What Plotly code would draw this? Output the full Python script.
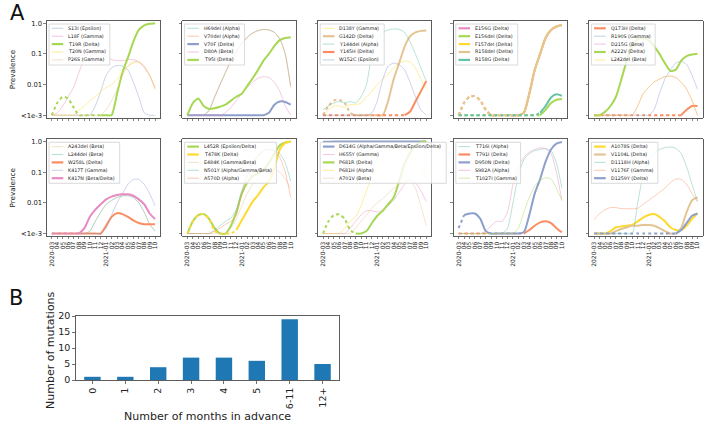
import plotly.graph_objects as go

MONTHS = ["2020-03", "04", "05", "06", "07", "08", "09", "10", "11", "12",
          "2021-01", "02", "03", "04", "05", "06", "07", "08", "09", "10"]
MONTH_IDX = list(range(len(MONTHS)))
Y_TICK_VALS = [0.001, 0.01, 0.1, 1.0]
Y_TICK_TEXT = ["<1e-3", "0.01", "0.1", "1.0"]
F = 0.001  # values shown at the "<1e-3" floor

# ---- panel 1
S13I = [F, F, F, F, F, F, F, F, .002, .006, .02, .035, .042, .04, .03, .012, .004, .0012, F, F]
L18F = [F, .0012, .002, .004, .008, .025, .07, .12, .13, .1, .08, .065, .06, .06, .065, .065, .055, .035, .02, .008]
T19R = [F, .0025, .004, .0035, .0018, F, F, F, F, F, F, F, .005, .025, .075, .25, .6, .85, .95, 1.0]
T20N = [F, F, F, F, F, .0015, .002, .003, .004, .006, .008, .01, .015, .025, .04, .05, .055, .04, .02, .007]
P26S = [F, F, F, F, F, F, F, F, F, F, .0015, .003, .007, .02, .04, .055, .055, .04, .02, .007]
# ---- panel 2
H69del = [F, F, F, F, .0015, .004, .01, .025, .06, .12, .22, .35, .48, .58, .62, .6, .5, .3, .1, .009]
V70del = [F, F, F, F, .0014, .0038, .01, .024, .058, .12, .21, .34, .47, .57, .63, .6, .5, .31, .1, .008]
V70F = [F, F, F, F, F, F, F, F, F, F, F, F, F, F, F, .0012, .0022, .0028, .0027, .0022]
D80A = [F, F, F, F, F, F, F, .0012, .0018, .003, .005, .008, .012, .016, .018, .017, .012, .006, .002, F]
T95I = [F, .0025, .0035, .002, .0016, .0017, .0019, .0022, .003, .004, .005, .009, .016, .03, .06, .1, .18, .28, .33, .35]
# ---- panel 3
D138Y = [F, .0015, .002, .002, .0018, .0022, .0022, .0025, .004, .006, .01, .015, .022, .035, .05, .058, .055, .035, .015, .007]
G142D = [F, .002, .003, .0032, .0025, .0012, F, F, F, F, F, F, .003, .015, .05, .17, .37, .5, .56, .58]
Y144del = [.0015, .002, .0025, .0028, .0025, .0028, .0025, .004, .01, .1, .3, .5, .6, .65, .63, .5, .25, .1, .035, .013]
Y145H = [F, F, F, F, F, F, F, F, F, F, F, F, F, F, F, F, .0013, .0028, .006, .013]
W152C = [F, F, F, F, F, F, F, F, F, .0012, .003, .015, .04, .05, .045, .03, .012, .004, .0015, F]
# ---- panel 4
E156G = [F, .0025, .004, .0042, .003, .0015, F, F, F, F, F, F, .0012, .005, .03, .1, .33, .6, .78, .87]
E156del = [F, F, F, F, F, F, F, F, F, F, F, F, F, F, F, F, .0015, .0025, .0032, .0034]
F157del = [F, .0025, .004, .0042, .003, .0015, F, F, F, F, F, F, .0012, .005, .03, .1, .33, .6, .78, .87]
R158del = [F, .0025, .004, .0042, .003, .0015, F, F, F, F, F, F, .0012, .005, .03, .1, .33, .6, .78, .87]
R158G = [F, F, F, F, F, F, F, F, F, F, F, F, F, F, F, .0012, .002, .0038, .0048, .0043]
# ---- panel 5
Q173H = [F, F, F, F, F, F, F, F, F, F, F, F, F, F, F, F, F, .0015, .002, .002]
R190S = [F, F, F, F, F, F, F, F, F, F, F, .0015, .005, .015, .03, .05, .057, .045, .02, .007]
D215G = [F, F, F, F, F, F, F, F, .002, .005, .008, .012, .015, .018, .019, .017, .012, .007, .003, F]
A222V = [F, F, .0013, .002, .004, .015, .06, .18, .3, .33, .28, .18, .1, .05, .028, .03, .06, .085, .095, .1]
L242del = [F, F, F, F, F, F, F, F, .002, .005, .008, .012, .015, .018, .019, .017, .012, .007, .003, F]
# ---- panel 6
A243del = [F, F, F, F, F, F, F, .0012, .0025, .005, .009, .012, .015, .017, .017, .015, .01, .005, .002, .0012]
L244del = [F, F, F, F, F, F, F, .0012, .0025, .005, .009, .012, .015, .017, .017, .015, .01, .005, .002, .0012]
W258L = [F, F, F, F, F, F, F, F, F, F, .0018, .0035, .0046, .0043, .0035, .0027, .0022, .002, .002, .002]
K417T = [F, F, F, F, F, F, F, F, F, F, .0015, .004, .01, .02, .04, .058, .058, .04, .02, .008]
K417N = [F, F, F, F, F, F, .0015, .0035, .006, .009, .013, .016, .018, .019, .019, .017, .013, .009, .0045, .003]
# ---- panel 7
L452R = [F, .0025, .004, .0043, .003, .0015, F, F, .0018, .005, .02, .045, .075, .09, .12, .2, .4, .75, .92, 1.0]
T478K = [F, .0025, .004, .0043, .003, .0012, F, F, F, .0013, .0027, .0055, .011, .018, .032, .05, .13, .55, .9, 1.0]
E484K = [F, F, F, F, F, F, F, F, .0015, .003, .008, .02, .04, .06, .08, .1, .12, .1, .06, .03]
N501Y = [F, F, F, F, F, .0013, .0018, .0025, .0032, .006, .025, .08, .2, .35, .5, .55, .5, .4, .2, .05]
A570D = [F, F, F, F, F, .0012, .0015, .002, .0025, .004, .02, .07, .18, .33, .5, .55, .48, .3, .1, .015]
# ---- panel 8
D614G = [.97, .98, .99, .99, 1.0, 1.0, 1.0, 1.0, 1.0, 1.0, 1.0, 1.0, 1.0, 1.0, 1.0, 1.0, 1.0, 1.0, 1.0, 1.0]
H655Y = [F, F, F, F, F, .0015, .0025, .004, .0055, .0055, .005, .006, .008, .012, .022, .04, .058, .045, .025, .011]
P681R = [F, .0025, .004, .0042, .003, .0013, F, F, .0012, .0022, .0038, .0055, .009, .015, .05, .19, .42, .75, .95, 1.0]
P681H = [F, F, F, F, .0015, .0025, .0035, .008, .025, .07, .15, .3, .47, .65, .68, .55, .38, .22, .12, .06]
A701V = [F, F, F, F, F, F, .0015, .0025, .004, .007, .01, .014, .02, .03, .04, .05, .05, .03, .008, .0018]
# ---- panel 9
T716I = [F, F, F, F, F, F, F, F, F, .0015, .01, .08, .25, .4, .5, .55, .58, .5, .2, .03]
T791I = [F, F, F, F, F, F, F, F, F, F, F, F, F, .0013, .0018, .0023, .0025, .0022, .0015, .0011]
D950N = [.0015, .004, .0045, .0045, .003, .0012, F, F, F, F, F, F, .0011, .004, .02, .06, .22, .55, .85, .96]
S982A = [F, F, F, F, F, .0012, .0018, .0025, .0025, .005, .04, .15, .3, .45, .55, .62, .58, .4, .1, .012]
T1027I = [F, F, F, F, F, F, F, F, F, F, F, .0015, .005, .015, .035, .055, .065, .06, .03, .012]
# ---- panel 10
A1078S = [F, F, F, .0012, .0016, .0017, .0018, .0019, .0025, .0033, .004, .0043, .0035, .0025, .0016, .0013, .0013, .0018, .003, .0046]
V1104L = [F, F, F, F, .0012, .0014, .0016, .0018, .0018, .0019, .0019, .0018, .0015, .0012, F, F, .0015, .005, .012, .015]
D1118H = [F, F, F, F, F, F, F, F, .01, .08, .25, .42, .55, .63, .66, .6, .4, .15, .04, .011]
V1176F = [.0028, .0045, .006, .007, .007, .0065, .0065, .0064, .0066, .009, .012, .016, .022, .03, .045, .06, .058, .04, .02, .011]
D1259Y = [F, F, F, F, F, F, F, F, F, F, F, F, F, F, F, F, .0013, .0022, .0038, .0045]

PANELS = [
    [("S13I (Epsilon)", S13I), ("L18F (Gamma)", L18F), ("T19R (Delta)", T19R), ("T20N (Gamma)", T20N), ("P26S (Gamma)", P26S)],
    [("H69del (Alpha)", H69del), ("V70del (Alpha)", V70del), ("V70F (Delta)", V70F), ("D80A (Beta)", D80A), ("T95I (Delta)", T95I)],
    [("D138Y (Gamma)", D138Y), ("G142D (Delta)", G142D), ("Y144del (Alpha)", Y144del), ("Y145H (Delta)", Y145H), ("W152C (Epsilon)", W152C)],
    [("E156G (Delta)", E156G), ("E156del (Delta)", E156del), ("F157del (Delta)", F157del), ("R158del (Delta)", R158del), ("R158G (Delta)", R158G)],
    [("Q173H (Delta)", Q173H), ("R190S (Gamma)", R190S), ("D215G (Beta)", D215G), ("A222V (Delta)", A222V), ("L242del (Beta)", L242del)],
    [("A243del (Beta)", A243del), ("L244del (Beta)", L244del), ("W258L (Delta)", W258L), ("K417T (Gamma)", K417T), ("K417N (Beta/Delta)", K417N)],
    [("L452R (Epsilon/Delta)", L452R), ("T478K (Delta)", T478K), ("E484K (Gamma/Beta)", E484K), ("N501Y (Alpha/Gamma/Beta)", N501Y), ("A570D (Alpha)", A570D)],
    [("D614G (Alpha/Gamma/Beta/Epsilon/Delta)", D614G), ("H655Y (Gamma)", H655Y), ("P681R (Delta)", P681R), ("P681H (Alpha)", P681H), ("A701V (Beta)", A701V)],
    [("T716I (Alpha)", T716I), ("T791I (Delta)", T791I), ("D950N (Delta)", D950N), ("S982A (Alpha)", S982A), ("T1027I (Gamma)", T1027I)],
    [("A1078S (Delta)", A1078S), ("V1104L (Delta)", V1104L), ("D1118H (Alpha)", D1118H), ("V1176F (Gamma)", V1176F), ("D1259Y (Delta)", D1259Y)],
]

# index from which the curve is drawn solid (dotted before it)
SOLID_FROM = {
    "T19R (Delta)": 9, "G142D (Delta)": 10, "Y145H (Delta)": 15,
    "E156G (Delta)": 10, "E156del (Delta)": 15, "F157del (Delta)": 10,
    "R158del (Delta)": 10, "R158G (Delta)": 15, "Q173H (Delta)": 16,
    "K417N (Beta/Delta)": 5, "T478K (Delta)": 9, "P681R (Delta)": 6,
    "T791I (Delta)": 12, "D950N (Delta)": 1, "D1259Y (Delta)": 15,
}

MONTHS_ADV = ["0", "1", "2", "3", "4", "5", "6-11", "12+"]
N_MUTATIONS = [1, 1, 4, 7, 7, 6, 19, 5]

SET2 = ["#66c2a5", "#fc8d62", "#8da0cb", "#e78ac3", "#a6d854", "#ffd92f", "#e5c494"]
FONT = "DejaVu Sans"

W, H = 716, 425
PL = [46.7 + 135.6 * j for j in range(5)]
PW = 113.5
RT = [20.7, 139.0]
PH = 97.0

CW = {'A': .684, 'B': .686, 'C': .698, 'D': .77, 'E': .632, 'F': .575, 'G': .775, 'H': .752,
      'I': .295, 'K': .656, 'L': .557, 'M': .863, 'N': .748, 'P': .603, 'Q': .787, 'R': .695,
      'S': .635, 'T': .611, 'V': .684, 'W': .989, 'Y': .611,
      'a': .613, 'b': .635, 'c': .55, 'd': .635, 'e': .615, 'f': .352, 'g': .635, 'h': .634,
      'i': .278, 'l': .278, 'm': .974, 'n': .634, 'o': .612, 'p': .635, 'r': .411, 's': .521,
      't': .392, 'u': .634, 'v': .592, ' ': .318, '(': .39, ')': .39, '/': .337}
LEG_FS = 4.8


def text_w(s):
    return sum(CW.get(c, .636) for c in s) * LEG_FS


def ax(n, a):
    return a if n == 1 else f"{a}{n}"


fig = go.Figure()
layout = dict(width=W, height=H, margin=dict(l=0, r=0, t=0, b=0, autoexpand=False),
              paper_bgcolor="white", plot_bgcolor="white", showlegend=False,
              font=dict(family=FONT, color="#222"))
shapes, annotations = [], []

k = 0
for n, panel in enumerate(PANELS, start=1):
    r, c = (n - 1) // 5, (n - 1) % 5
    x0 = PL[c] / W
    layout["xaxis" if n == 1 else f"xaxis{n}"] = dict(
        domain=[x0, (PL[c] + PW) / W], anchor=ax(n, "y"), range=[-0.94, 19.94],
        tickvals=MONTH_IDX, ticktext=MONTHS, tickangle=-90, showticklabels=(r == 1),
        tickfont=dict(size=6, family=FONT, color="#222"),
        showline=True, mirror=True, linecolor="#333", linewidth=0.8,
        ticks="outside", ticklen=2.5, tickwidth=0.6, tickcolor="#333",
        showgrid=False, zeroline=False, automargin=False)
    layout["yaxis" if n == 1 else f"yaxis{n}"] = dict(
        domain=[1 - (RT[r] + PH) / H, 1 - RT[r] / H], anchor=ax(n, "x"),
        type="log", range=[-3.08, 0.08], tickvals=Y_TICK_VALS, ticktext=Y_TICK_TEXT,
        showticklabels=(c == 0), tickfont=dict(size=6.8, family=FONT, color="#222"),
        showline=True, mirror=True, linecolor="#333", linewidth=0.8,
        ticks="outside", ticklen=2.5, tickwidth=0.6, tickcolor="#333",
        showgrid=False, zeroline=False, automargin=False)

    # legend frame
    xref, yref = ax(n, "x") + " domain", ax(n, "y") + " domain"
    lw = 20 + max(text_w(lbl) for lbl, _ in panel) + 4
    top, boxh = 3.3, 41.0
    shapes.append(dict(type="rect", xref=xref, yref=yref, layer="above",
                       x0=2.3 / PW, x1=(2.3 + lw) / PW,
                       y0=1 - (top + boxh) / PH, y1=1 - top / PH,
                       fillcolor="rgba(255,255,255,0.8)", line=dict(color="#d0d0d0", width=0.8)))

    for j, (label, vals) in enumerate(panel):
        color = SET2[(k + 2) % 7]
        k += 1
        thick = "Delta" in label
        width = 2.0 if thick else 1.0
        op = 1.0 if thick else 0.45
        sf = SOLID_FROM.get(label, 0)
        if sf > 0:
            fig.add_trace(go.Scatter(
                x=MONTH_IDX[:sf + 1], y=vals[:sf + 1], mode="lines",
                line=dict(color=color, width=width, dash="dot", shape="spline", smoothing=0.6),
                opacity=op, xaxis=ax(n, "x"), yaxis=ax(n, "y"), hoverinfo="skip"))
        fig.add_trace(go.Scatter(
            x=MONTH_IDX[sf:], y=vals[sf:], mode="lines", name=label,
            line=dict(color=color, width=width, shape="spline", smoothing=0.6),
            opacity=op, xaxis=ax(n, "x"), yaxis=ax(n, "y")))
        # legend entry
        yc = 7.6 + 7.9 * j
        shapes.append(dict(type="line", xref=xref, yref=yref, layer="above",
                           x0=5.0 / PW, x1=16.6 / PW, y0=1 - yc / PH, y1=1 - yc / PH,
                           opacity=op, line=dict(color=color, width=2.2 if thick else 1.1)))
        annotations.append(dict(text=label, xref=xref, yref=yref, x=19.5 / PW, y=1 - yc / PH,
                                xanchor="left", yanchor="middle", showarrow=False,
                                font=dict(size=LEG_FS, family=FONT, color="#222")))

# Panel B
fig.add_trace(go.Bar(x=MONTHS_ADV, y=N_MUTATIONS, width=0.5, marker_color="#1f77b4",
                     marker_line_width=0, xaxis="x11", yaxis="y11"))
layout["xaxis11"] = dict(domain=[76 / W, 339 / W], anchor="y11", type="category",
                         range=[-0.5, 7.5], tickangle=-90,
                         tickfont=dict(size=9.5, family=FONT, color="#222"),
                         showline=True, mirror=True, linecolor="#333", linewidth=0.8,
                         ticks="outside", ticklen=3, tickwidth=0.7, tickcolor="#333",
                         showgrid=False, zeroline=False, automargin=False)
layout["yaxis11"] = dict(domain=[1 - 380 / H, 1 - 316 / H], anchor="x11", range=[0, 20.02],
                         tickvals=[0, 5, 10, 15, 20],
                         tickfont=dict(size=9.5, family=FONT, color="#222"),
                         showline=True, mirror=True, linecolor="#333", linewidth=0.8,
                         ticks="outside", ticklen=3, tickwidth=0.7, tickcolor="#333",
                         showgrid=False, zeroline=False, automargin=False)


def label(text, x, y, size, angle=0, color="#222"):
    annotations.append(dict(text=text, xref="paper", yref="paper", x=x / W, y=1 - y / H,
                            textangle=angle, showarrow=False, xanchor="center", yanchor="middle",
                            font=dict(size=size, family=FONT, color=color)))


for yc in (RT[0] + PH / 2, RT[1] + PH / 2):
    label("Prevalence", 12, yc, 7.2, -90)
label("Number of mutations", 50, 350, 11, -90)
label("Number of months in advance", 207.5, 416, 11)
label("A", 17, 13, 21, 0, "#111")
label("B", 16, 298, 21, 0, "#111")

layout["shapes"] = shapes
layout["annotations"] = annotations
fig.update_layout(**layout)
fig.write_html("out.html", config={"displayModeBar": False, "staticPlot": True},
               post_script="document.body.style.margin='0';document.body.style.overflow='hidden';")
